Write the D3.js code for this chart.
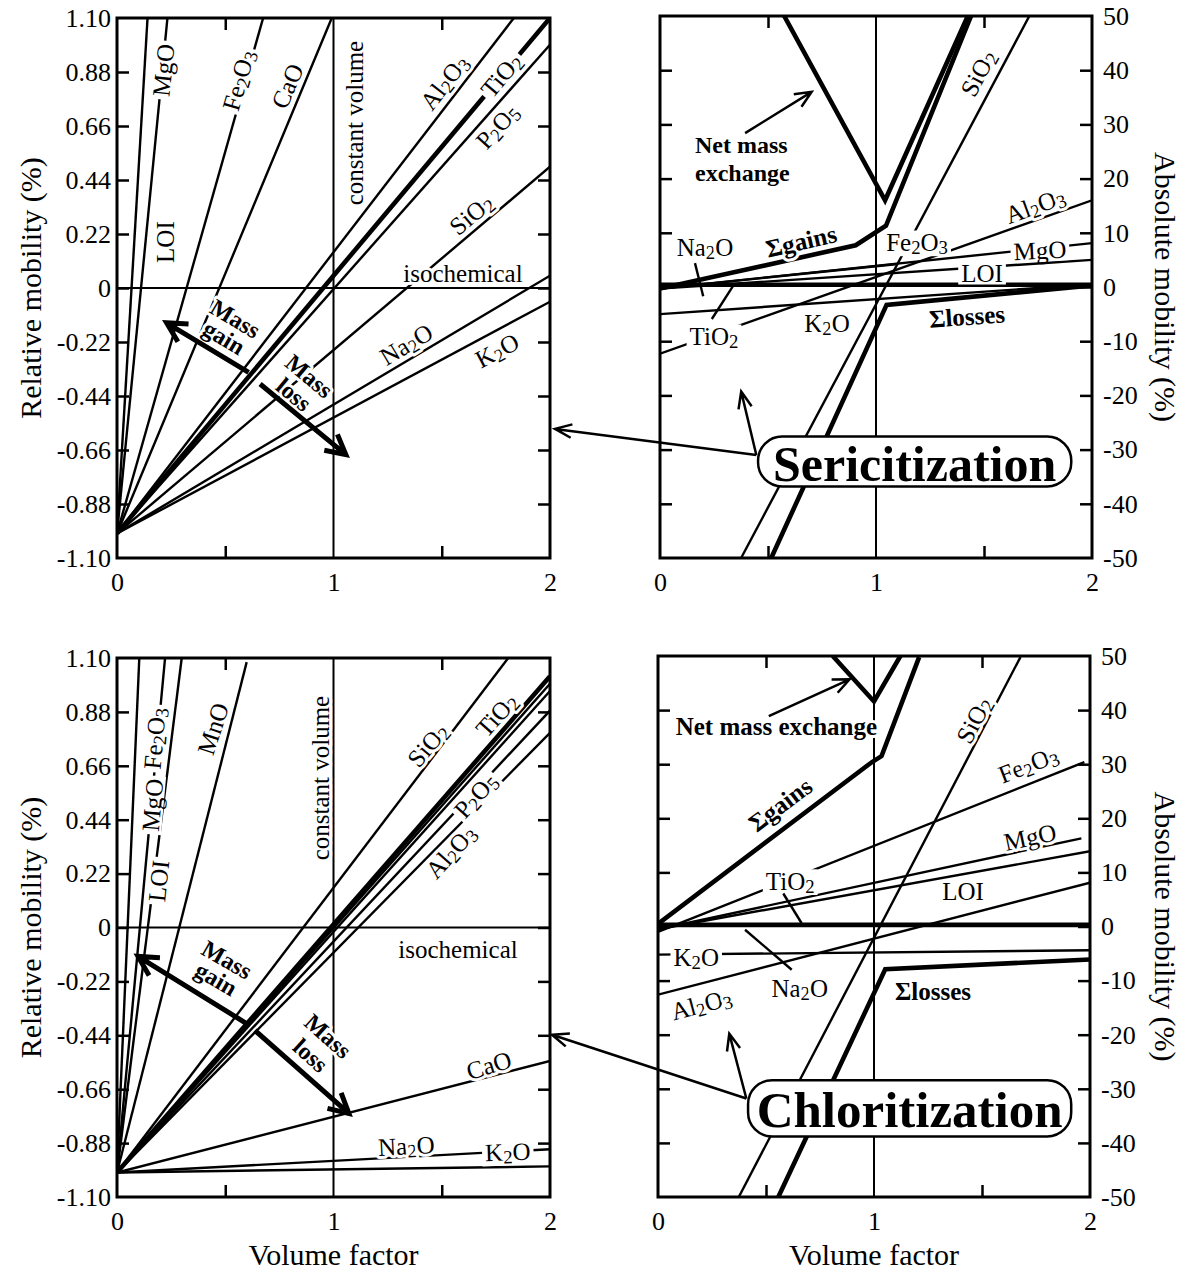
<!DOCTYPE html>
<html lang="en">
<head>
<meta charset="UTF-8">
<title>Relative and absolute mobility vs volume factor</title>
<script src="https://d3js.org/d3.v7.min.js"></script>
<style>
  body { margin: 0; background: #fff; }
  svg text { font-family: "Liberation Serif", "Times New Roman", Times, serif; fill: #000; }
</style>
</head>
<body>
<svg id="chart" width="1191" height="1272"></svg>
<script>
// ---------- values ----------
const volumeTicks = [0, 1, 2];
const halfTicks = [0.5, 1.5];
const relTicks = [1.10, 0.88, 0.66, 0.44, 0.22, 0, -0.22, -0.44, -0.66, -0.88, -1.10];
const absTicks = [50, 40, 30, 20, 10, 0, -10, -20, -30, -40, -50];

// relative mobility lines all start at volume factor 0, mobility -1;
// the end point is where each line leaves the frame [volume factor, relative mobility]
const relStart = [0, -1];
const serRelNames = ["LOI", "MgO", "Fe2O3", "CaO", "Al2O3", "TiO2", "P2O5", "SiO2", "Na2O", "K2O"];
const serRelEnds = [[0.141, 1.10], [0.233, 1.10], [0.675, 1.10], [0.992, 1.10], [1.833, 1.10],
                    [2, 1.10], [2, 0.991], [2, 0.494], [2, 0.050], [2, -0.056]];

const chlRelNames = ["MgO", "Fe2O3", "LOI", "MnO", "SiO2", "TiO2", "line7", "line8", "P2O5", "Al2O3", "CaO", "K2O", "Na2O"];
const chlRelEnds = [[0.103, 1.10], [0.222, 1.10], [0.299, 1.10], [0.599, 1.083], [1.807, 1.10],
                    [2, 1.025], [2, 0.995], [2, 0.965], [2, 0.885], [2, 0.795], [2, -0.545], [2, -0.905], [2, -0.975]];

// absolute mobility (%) against volume factor, Sericitization
const serAbsSiO2   = [[0.3755, -50], [1.71, 50]];
const serAbsAl2O3  = [[0, -12.3], [2, 16.0]];
const serAbsMgO    = [[0, -0.3], [2, 8.1]];
const serAbsLOI    = [[0, -0.3], [2, 5.0]];
const serAbsFe2O3  = [[0, -0.3], [1.09, 4.2]];
const serAbsK2O    = [[0, -5.0], [2, 0.5]];
const serAbsTiO2   = [[0, 0.6], [2, 0.6]];
const serAbsNa2O   = [[0, 0.2], [2, 0.2]];
const serAbsGains  = [[0, -0.3], [0.906, 7.7], [1.046, 11.3], [1.44, 50]];
const serAbsLosses = [[0.515, -50], [1.049, -3.3], [2, 0.3]];
const serAbsNet    = [[0.575, 50], [1.042, 16.0], [1.425, 50]];

// absolute mobility (%) against volume factor, Chloritization
const chlAbsSiO2   = [[0.374, -50], [1.678, 49.8]];
const chlAbsFe2O3  = [[0, -1.0], [1.974, 30.4]];
const chlAbsMgO    = [[0, -0.5], [1.96, 16.3]];
const chlAbsLOI    = [[0, -0.5], [2, 13.9]];
const chlAbsAl2O3  = [[0, -12.6], [2, 8.1]];
const chlAbsK2O    = [[0, -5.2], [2, -4.4]];
const chlAbsTiO2   = [[0, 0.5], [2, 0.5]];
const chlAbsNa2O   = [[0, 0.1], [2, 0.1]];
const chlAbsGains  = [[0, 0.5], [0.991, 30.4], [1.035, 31.5], [1.209, 49.8]];
const chlAbsLosses = [[0.557, -50], [1.052, -7.9], [2, -6.1]];
const chlAbsNet    = [[0.809, 50], [1.0, 41.6], [1.122, 50]];

// ---------- drawing ----------
const svg = d3.select("#chart");
const fmtRel = d => d === 0 ? "0" : d.toFixed(2);
const fmtAbs = d => String(d);

function makePanel(id, left, right, top, bottom, domain, ticks, side) {
    const p = { id, left, right, top, bottom, ticks, side };
    p.x = d3.scaleLinear().domain([0, 2]).range([left, right]);
    p.y = d3.scaleLinear().domain(domain).range([bottom, top]);
    svg.append("clipPath").attr("id", "clip-" + id)
        .append("rect").attr("x", left).attr("y", top).attr("width", right - left).attr("height", bottom - top);
    p.plot = svg.append("g").attr("clip-path", `url(#clip-${id})`);
    p.ann = svg.append("g");
    return p;
}

const serRel = makePanel("serRel", 117, 550, 18, 558, [-1.1, 1.1], relTicks, "left");
const serAbs = makePanel("serAbs", 660, 1092, 16, 558, [-50, 50], absTicks, "right");
const chlRel = makePanel("chlRel", 117, 550, 658, 1197, [-1.1, 1.1], relTicks, "left");
const chlAbs = makePanel("chlAbs", 658, 1090, 656, 1197, [-50, 50], absTicks, "right");

function drawAxes(p) {
    const g = svg.append("g");
    const fmt = p.side === "left" ? fmtRel : fmtAbs;
    const labels = p.side === "left"
        ? d3.axisLeft(p.y).tickValues(p.ticks).tickSize(0).tickPadding(6).tickFormat(fmt)
        : d3.axisRight(p.y).tickValues(p.ticks).tickSize(0).tickPadding(11).tickFormat(fmt);
    g.append("g").attr("transform", `translate(${p.side === "left" ? p.left : p.right},0)`).call(labels);
    const inner = p.ticks.slice(1, -1);
    g.append("g").attr("transform", `translate(${p.left},0)`)
        .call(d3.axisRight(p.y).tickValues(inner).tickSize(12).tickFormat(""));
    g.append("g").attr("transform", `translate(${p.right},0)`)
        .call(d3.axisLeft(p.y).tickValues(inner).tickSize(12).tickFormat(""));
    g.append("g").attr("transform", `translate(0,${p.bottom})`)
        .call(d3.axisBottom(p.x).tickValues(volumeTicks).tickSize(0).tickPadding(15).tickFormat(d3.format("d")));
    g.append("g").attr("transform", `translate(0,${p.bottom})`)
        .call(d3.axisTop(p.x).tickValues(halfTicks).tickSize(12).tickFormat(""));
    g.append("g").attr("transform", `translate(0,${p.top})`)
        .call(d3.axisBottom(p.x).tickValues(halfTicks).tickSize(12).tickFormat(""));
    g.selectAll(".domain").remove();
    g.selectAll(".tick line").attr("stroke", "#000").attr("stroke-width", 2.5);
    g.selectAll(".tick text").attr("font-family", '"Liberation Serif", "Times New Roman", serif')
        .attr("font-size", 26).attr("fill", "#000");
    g.append("rect").attr("x", p.left).attr("y", p.top)
        .attr("width", p.right - p.left).attr("height", p.bottom - p.top)
        .attr("fill", "none").attr("stroke", "#000").attr("stroke-width", 3);
}

function guides(p, withZero) {
    p.plot.append("line").attr("x1", p.x(1)).attr("x2", p.x(1)).attr("y1", p.top).attr("y2", p.bottom)
        .attr("stroke", "#000").attr("stroke-width", 2);
    if (withZero) {
        p.plot.append("line").attr("x1", p.left).attr("x2", p.right).attr("y1", p.y(0)).attr("y2", p.y(0))
            .attr("stroke", "#000").attr("stroke-width", 2);
    }
}

function drawSeries(p, pts, width) {
    const line = d3.line().x(d => p.x(d[0])).y(d => p.y(d[1]));
    p.plot.append("path").datum(pts).attr("d", line)
        .attr("fill", "none").attr("stroke", "#000").attr("stroke-width", width || 2.4)
        .attr("stroke-linejoin", "miter");
}

// "Al_2O_3" -> Al, subscript 2, O, subscript 3; "\n" splits lines
function richText(text, s, lineHeight, anchor) {
    const lines = s.split("\n");
    lines.forEach((ln, i) => {
        const row = lines.length > 1
            ? text.append("tspan").attr("x", 0).attr("text-anchor", anchor)
                .attr("dy", i === 0 ? -(lines.length - 1) / 2 * lineHeight : lineHeight)
            : text;
        ln.split(/(_\d)/).filter(Boolean).forEach(part => {
            if (part[0] === "_") row.append("tspan").attr("baseline-shift", "-30%").attr("font-size", "75%").text(part.slice(1));
            else row.append("tspan").text(part);
        });
    });
}

function drawLabels(p, list) {
    list.forEach(l => {
        const g = p.ann.append("g")
            .attr("transform", `translate(${p.x(l.x)},${p.y(l.y)}) rotate(${l.r || 0})`);
        const t = g.append("text")
            .attr("text-anchor", l.anchor || "middle")
            .attr("dominant-baseline", "central")
            .attr("font-size", l.size || 25)
            .attr("font-weight", l.bold ? "bold" : null);
        richText(t, l.t, l.lh || 24, l.anchor || "middle");
        if (l.gap) {
            const b = t.node().getBBox();
            g.insert("rect", "text").attr("x", b.x - 3).attr("y", b.y + 2)
                .attr("width", b.width + 6).attr("height", b.height - 4).attr("fill", "#fff");
        } else {
            t.attr("stroke", "#fff").attr("stroke-width", 6).attr("stroke-linejoin", "round").attr("paint-order", "stroke");
        }
    });
}

// open-headed arrow in pixel space
function arrow(g, x1, y1, x2, y2, width, head, spread) {
    const a = Math.atan2(y2 - y1, x2 - x1);
    const s = spread * Math.PI / 180;
    const path = d3.path();
    path.moveTo(x1, y1); path.lineTo(x2, y2);
    path.moveTo(x2 - head * Math.cos(a - s), y2 - head * Math.sin(a - s));
    path.lineTo(x2, y2);
    path.lineTo(x2 - head * Math.cos(a + s), y2 - head * Math.sin(a + s));
    g.append("path").attr("d", path.toString()).attr("fill", "none")
        .attr("stroke", "#000").attr("stroke-width", width).attr("stroke-linejoin", "miter");
}

function panelArrow(p, from, to, width, head, spread) {
    arrow(p.ann, p.x(from[0]), p.y(from[1]), p.x(to[0]), p.y(to[1]), width, head, spread);
}

function box(p, x0, x1, y0, y1, text, size) {
    const g = p.ann.append("g");
    const bx = p.x(x0), by = p.y(y1), bw = p.x(x1) - p.x(x0), bh = p.y(y0) - p.y(y1);
    g.append("rect").attr("x", bx).attr("y", by).attr("width", bw).attr("height", bh)
        .attr("rx", 24).attr("fill", "#fff").attr("stroke", "#000").attr("stroke-width", 2.5);
    g.append("text").attr("x", bx + bw / 2).attr("y", by + bh / 2 + 2)
        .attr("text-anchor", "middle").attr("dominant-baseline", "central")
        .attr("font-size", size).attr("font-weight", "bold").text(text);
}

// ----- panel: sericitization, relative -----
guides(serRel, true);
serRelEnds.forEach((end, i) => drawSeries(serRel, [relStart, end], serRelNames[i] === "TiO2" ? 4.6 : 2.4));
drawLabels(serRel, [
    { t: "MgO", x: 0.2125, y: 0.888, r: -84, gap: true },
    { t: "LOI", x: 0.222, y: 0.187, r: -90 },
    { t: "Fe_2O_3", x: 0.56, y: 0.847, r: -74, gap: true },
    { t: "CaO", x: 0.785, y: 0.823, r: -67 },
    { t: "constant volume", x: 1.095, y: 0.672, r: -90 },
    { t: "Al_2O_3", x: 1.51, y: 0.839, r: -52 },
    { t: "TiO_2", x: 1.774, y: 0.868, r: -50, gap: true },
    { t: "P_2O_5", x: 1.755, y: 0.66, r: -48 },
    { t: "SiO_2", x: 1.635, y: 0.301, r: -40 },
    { t: "isochemical", x: 1.598, y: 0.063 },
    { t: "Na_2O", x: 1.335, y: -0.228, r: -31 },
    { t: "K_2O", x: 1.755, y: -0.253, r: -28 },
    { t: "Mass\ngain", x: 0.52, y: -0.164, r: 31, bold: true, size: 24, lh: 22 },
    { t: "Mass\nloss", x: 0.852, y: -0.397, r: 40, bold: true, size: 24, lh: 24 }
]);
panelArrow(serRel, [0.608, -0.344], [0.229, -0.142], 5, 22, 28);
panelArrow(serRel, [0.661, -0.391], [1.057, -0.679], 5, 22, 28);

// ----- panel: sericitization, absolute -----
guides(serAbs, false);
[serAbsSiO2, serAbsAl2O3, serAbsMgO, serAbsLOI, serAbsFe2O3, serAbsK2O, serAbsTiO2, serAbsNa2O]
    .forEach(s => drawSeries(serAbs, s, 2.4));
[serAbsGains, serAbsLosses, serAbsNet].forEach(s => drawSeries(serAbs, s, 4.6));
drawLabels(serAbs, [
    { t: "SiO_2", x: 1.472, y: 39.5, r: -62 },
    { t: "Net mass\nexchange", x: 0.162, y: 23.6, anchor: "start", bold: true, size: 24, lh: 28 },
    { t: "Σgains", x: 0.653, y: 8.49, r: -13, bold: true },
    { t: "Na_2O", x: 0.208, y: 7.38 },
    { t: "TiO_2", x: 0.25, y: -9.04, gap: true },
    { t: "K_2O", x: 0.773, y: -6.64 },
    { t: "Fe_2O_3", x: 1.19, y: 8.3, gap: true },
    { t: "MgO", x: 1.759, y: 6.83, r: -3, gap: true },
    { t: "LOI", x: 1.491, y: 2.58, gap: true },
    { t: "Al_2O_3", x: 1.736, y: 15.1, r: -20 },
    { t: "Σlosses", x: 1.421, y: -5.35, r: -4, bold: true }
]);
// leader lines from the Na2O and TiO2 labels to the near-zero lines
serAbs.ann.append("line").attr("x1", serAbs.x(0.162)).attr("y1", serAbs.y(4.4))
    .attr("x2", serAbs.x(0.2)).attr("y2", serAbs.y(-1.7)).attr("stroke", "#000").attr("stroke-width", 2.4);
serAbs.ann.append("line").attr("x1", serAbs.x(0.24)).attr("y1", serAbs.y(-5.9))
    .attr("x2", serAbs.x(0.34)).attr("y2", serAbs.y(0.3)).attr("stroke", "#000").attr("stroke-width", 2.4);
panelArrow(serAbs, [0.394, 28.4], [0.702, 36.0], 2.5, 18, 24);
box(serAbs, 0.454, 1.904, -36.8, -27.6, "Sericitization", 50);
arrow(svg, serAbs.x(0.446), serAbs.y(-31.0), serRel.x(2.023), serRel.y(-0.574), 2.5, 18, 22);
panelArrow(serAbs, [0.446, -31.0], [0.376, -19.3], 2.5, 18, 22);

// ----- panel: chloritization, relative -----
guides(chlRel, true);
chlRelEnds.forEach((end, i) => drawSeries(chlRel, [relStart, end], chlRelNames[i] === "TiO2" ? 4.6 : 2.4));
drawLabels(chlRel, [
    { t: "Fe_2O_3", x: 0.172, y: 0.772, r: -85, gap: true },
    { t: "MgO", x: 0.162, y: 0.5, r: -85, gap: true },
    { t: "LOI", x: 0.19, y: 0.19, r: -84, gap: true },
    { t: "MnO", x: 0.442, y: 0.812, r: -72 },
    { t: "constant volume", x: 0.938, y: 0.61, r: -90 },
    { t: "SiO_2", x: 1.434, y: 0.746, r: -50 },
    { t: "TiO_2", x: 1.752, y: 0.869, r: -48 },
    { t: "P_2O_5", x: 1.655, y: 0.54, r: -48, gap: true },
    { t: "Al_2O_3", x: 1.54, y: 0.31, r: -48 },
    { t: "isochemical", x: 1.575, y: -0.088 },
    { t: "CaO", x: 1.717, y: -0.561, r: -17 },
    { t: "Na_2O", x: 1.336, y: -0.89, r: -3 },
    { t: "K_2O", x: 1.805, y: -0.914, r: -2, gap: true },
    { t: "Mass\ngain", x: 0.4825, y: -0.171, r: 30, bold: true, size: 24, lh: 22 },
    { t: "Mass\nloss", x: 0.934, y: -0.4835, r: 42, bold: true, size: 24, lh: 26 }
]);
panelArrow(chlRel, [0.593, -0.389], [0.097, -0.118], 5, 22, 28);
panelArrow(chlRel, [0.637, -0.42], [1.071, -0.759], 5, 22, 28);

// ----- panel: chloritization, absolute -----
guides(chlAbs, false);
[chlAbsSiO2, chlAbsFe2O3, chlAbsMgO, chlAbsLOI, chlAbsAl2O3, chlAbsK2O, chlAbsTiO2, chlAbsNa2O]
    .forEach(s => drawSeries(chlAbs, s, 2.4));
[chlAbsGains, chlAbsLosses, chlAbsNet].forEach(s => drawSeries(chlAbs, s, 4.6));
drawLabels(chlAbs, [
    { t: "Net mass exchange", x: 0.548, y: 37.0, bold: true },
    { t: "Σgains", x: 0.565, y: 22.6, r: -37, bold: true },
    { t: "SiO_2", x: 1.461, y: 38.2, r: -62 },
    { t: "Fe_2O_3", x: 1.713, y: 30.0, r: -21 },
    { t: "MgO", x: 1.722, y: 16.6, r: -12 },
    { t: "TiO_2", x: 0.612, y: 8.45, gap: true },
    { t: "LOI", x: 1.412, y: 6.6 },
    { t: "K_2O", x: 0.177, y: -5.6, gap: true },
    { t: "Na_2O", x: 0.656, y: -11.3 },
    { t: "Al_2O_3", x: 0.2, y: -14.3, r: -15 },
    { t: "Σlosses", x: 1.273, y: -12.0, bold: true }
]);
chlAbs.ann.append("line").attr("x1", chlAbs.x(0.58)).attr("y1", chlAbs.y(6.1))
    .attr("x2", chlAbs.x(0.665)).attr("y2", chlAbs.y(0.6)).attr("stroke", "#000").attr("stroke-width", 2.4);
chlAbs.ann.append("line").attr("x1", chlAbs.x(0.403)).attr("y1", chlAbs.y(-0.6))
    .attr("x2", chlAbs.x(0.619)).attr("y2", chlAbs.y(-8.0)).attr("stroke", "#000").attr("stroke-width", 2.4);
panelArrow(chlAbs, [0.513, 38.9], [0.887, 45.7], 2.5, 18, 24);
box(chlAbs, 0.417, 1.913, -38.8, -28.4, "Chloritization", 51);
arrow(svg, chlAbs.x(0.409), chlAbs.y(-31.8), chlRel.x(2.009), chlRel.y(-0.438), 2.5, 18, 22);
panelArrow(chlAbs, [0.409, -31.8], [0.33, -19.8], 2.5, 18, 22);

// axes and frames on top
[serRel, serAbs, chlRel, chlAbs].forEach(drawAxes);

// axis titles
[serRel, chlRel].forEach(p => {
    svg.append("text").attr("transform", `translate(30,${(p.top + p.bottom) / 2}) rotate(-90)`)
        .attr("text-anchor", "middle").attr("dominant-baseline", "central").attr("font-size", 30)
        .text("Relative mobility (%)");
});
[serAbs, chlAbs].forEach(p => {
    svg.append("text").attr("transform", `translate(1165,${(p.top + p.bottom) / 2}) rotate(90)`)
        .attr("text-anchor", "middle").attr("dominant-baseline", "central").attr("font-size", 30)
        .text("Absolute mobility (%)");
});
[chlRel, chlAbs].forEach(p => {
    svg.append("text").attr("x", p.x(1)).attr("y", 1265)
        .attr("text-anchor", "middle").attr("font-size", 30).text("Volume factor");
});
</script>
</body>
</html>
